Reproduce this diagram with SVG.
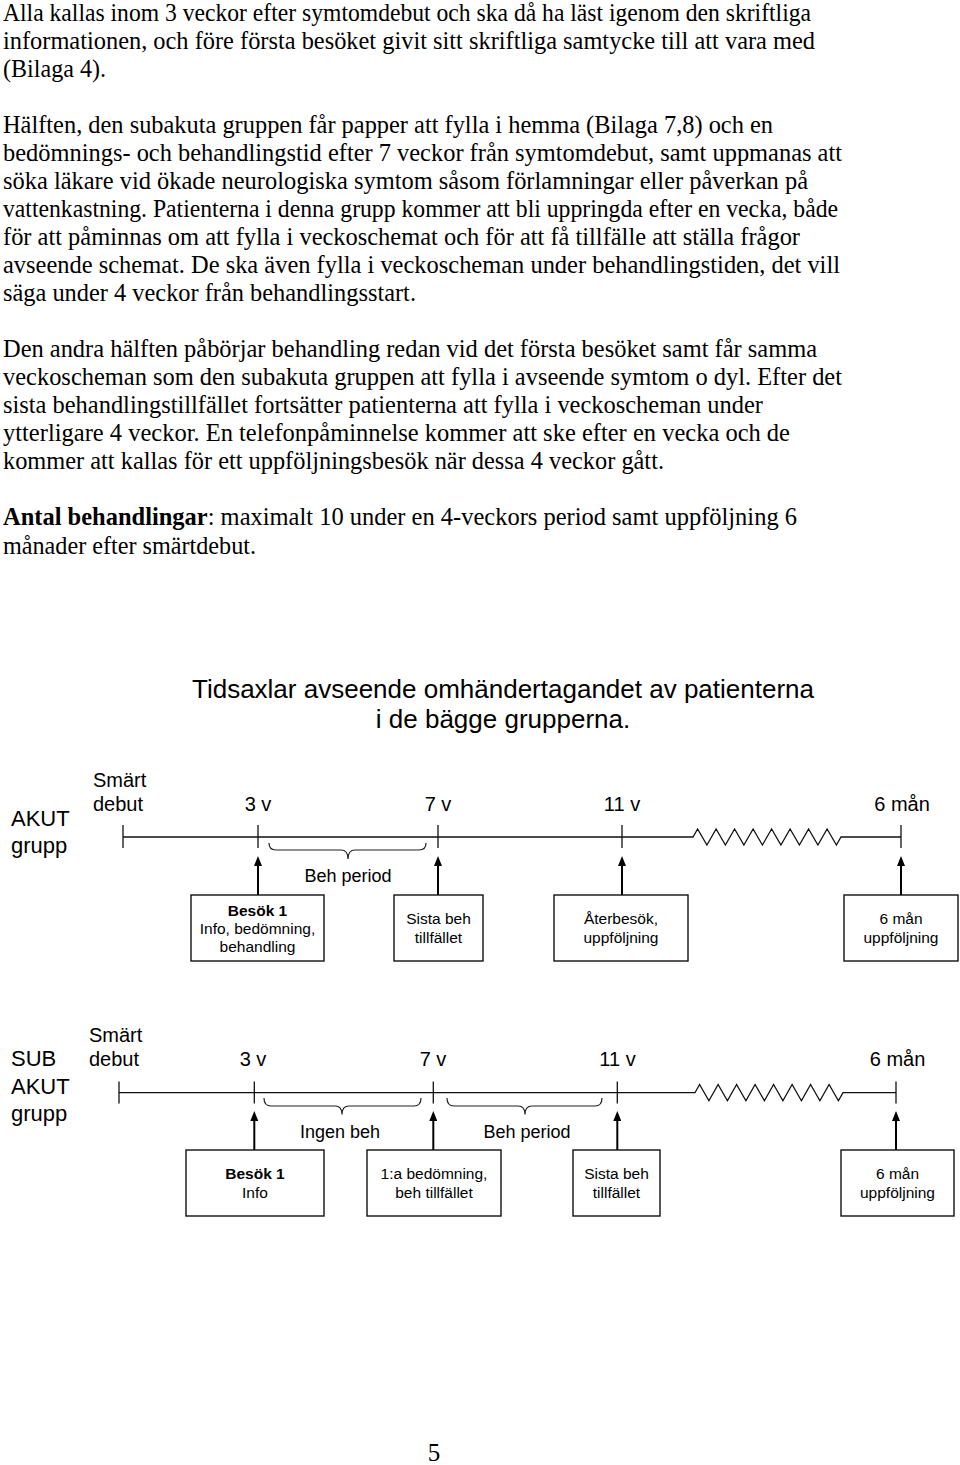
<svg xmlns="http://www.w3.org/2000/svg" width="960" height="1465" viewBox="0 0 960 1465">
<style>
.body{font-family:"Liberation Serif","Times New Roman",serif;font-size:25px;fill:#000}
.sans{font-family:"Liberation Sans",Arial,sans-serif;fill:#000}
.grp{font-size:22px}
.tl{font-size:20px}
.mid{text-anchor:middle}
.per{font-size:18px;text-anchor:middle}
.title{font-size:26px;text-anchor:middle}
.bx rect{fill:#fff;stroke:#111;stroke-width:1.4}
.bx text{font-family:"Liberation Sans",Arial,sans-serif;font-size:15.5px;text-anchor:middle;fill:#000}
.b{font-weight:bold}
.axis{fill:none;stroke:#111;stroke-width:1.3}
.brace{fill:none;stroke:#222;stroke-width:1.2}
.arr{stroke:#000;stroke-width:2;marker-end:url(#ah)}
</style>
<defs>
<marker id="ah" markerUnits="userSpaceOnUse" markerWidth="10" markerHeight="8" viewBox="0 0 10 8" refX="6" refY="4" orient="auto">
<path d="M0,0 L10,4 L0,8 Z" fill="#000"/>
</marker>
</defs>
<rect width="960" height="1465" fill="#fff"/>

<g id="bodytext" class="body">
<text x="3" y="20.5" textLength="808" lengthAdjust="spacingAndGlyphs">Alla kallas inom 3 veckor efter symtomdebut och ska då ha läst igenom den skriftliga</text>
<text x="3" y="48.6" textLength="812" lengthAdjust="spacingAndGlyphs">informationen, och före första besöket givit sitt skriftliga samtycke till att vara med</text>
<text x="3" y="76.6" textLength="103" lengthAdjust="spacingAndGlyphs">(Bilaga 4).</text>
<text x="3" y="132.7" textLength="770" lengthAdjust="spacingAndGlyphs">Hälften, den subakuta gruppen får papper att fylla i hemma (Bilaga 7,8) och en</text>
<text x="3" y="160.8" textLength="839" lengthAdjust="spacingAndGlyphs">bedömnings- och behandlingstid efter 7 veckor från symtomdebut, samt uppmanas att</text>
<text x="3" y="188.8" textLength="805" lengthAdjust="spacingAndGlyphs">söka läkare vid ökade neurologiska symtom såsom förlamningar eller påverkan på</text>
<text x="3" y="216.9" textLength="835" lengthAdjust="spacingAndGlyphs">vattenkastning. Patienterna i denna grupp kommer att bli uppringda efter en vecka, både</text>
<text x="3" y="244.9" textLength="797" lengthAdjust="spacingAndGlyphs">för att påminnas om att fylla i veckoschemat och för att få tillfälle att ställa frågor</text>
<text x="3" y="273" textLength="837" lengthAdjust="spacingAndGlyphs">avseende schemat. De ska även fylla i veckoscheman under behandlingstiden, det vill</text>
<text x="3" y="301" textLength="413" lengthAdjust="spacingAndGlyphs">säga under 4 veckor från behandlingsstart.</text>
<text x="3" y="357.1" textLength="814" lengthAdjust="spacingAndGlyphs">Den andra hälften påbörjar behandling redan vid det första besöket samt får samma</text>
<text x="3" y="385.2" textLength="839" lengthAdjust="spacingAndGlyphs">veckoscheman som den subakuta gruppen att fylla i avseende symtom o dyl. Efter det</text>
<text x="3" y="413.2" textLength="760" lengthAdjust="spacingAndGlyphs">sista behandlingstillfället fortsätter patienterna att fylla i veckoscheman under</text>
<text x="3" y="441.3" textLength="787" lengthAdjust="spacingAndGlyphs">ytterligare 4 veckor. En telefonpåminnelse kommer att ske efter en vecka och de</text>
<text x="3" y="469.3" textLength="661" lengthAdjust="spacingAndGlyphs">kommer att kallas för ett uppföljningsbesök när dessa 4 veckor gått.</text>
<text x="3" y="525.4" textLength="794" lengthAdjust="spacingAndGlyphs"><tspan font-weight="bold">Antal behandlingar</tspan>: maximalt 10 under en 4-veckors period samt uppföljning 6</text>
<text x="3" y="553.5" textLength="253" lengthAdjust="spacingAndGlyphs">månader efter smärtdebut.</text>
<text x="434" y="1461" text-anchor="middle">5</text>
</g>

<g id="title" class="sans title">
<text x="503" y="698">Tidsaxlar avseende omhändertagandet av patienterna</text>
<text x="503" y="728">i de bägge grupperna.</text>
</g>

<g id="akut-axis">
<text class="sans grp" x="11" y="826">AKUT</text>
<text class="sans grp" x="11" y="853">grupp</text>
<text class="sans tl" x="93" y="787">Smärt</text>
<text class="sans tl" x="93" y="811">debut</text>
<text class="sans tl mid" x="258" y="811">3 v</text>
<text class="sans tl mid" x="438" y="811">7 v</text>
<text class="sans tl mid" x="622" y="811">11 v</text>
<text class="sans tl mid" x="902" y="811">6 mån</text>
<path class="axis" d="M123,837 L693,837 L697.6,829 L706.9,845 L716.1,829 L725.4,845 L734.6,829 L743.9,845 L753.1,829 L762.4,845 L771.6,829 L780.9,845 L790.1,829 L799.4,845 L808.6,829 L817.9,845 L827.1,829 L836.4,845 L841,837 L901,837"/>
<path class="axis" d="M123,825 V848 M258,825 V848 M438,825 V848 M622,825 V848 M901,825 V848"/>
<path class="brace" d="M269,843 Q269,850 276,850 L341,850 Q348,850 348,859 Q348,850 355,850 L419,850 Q426,850 426,843"/>
<text class="sans per" x="348" y="882">Beh period</text>
</g>

<g id="akut-besok1" class="bx">
<rect x="191" y="895" width="133" height="66"/>
<text x="257.5" y="915.5" class="b">Besök 1</text>
<text x="257.5" y="933.5">Info, bedömning,</text>
<text x="257.5" y="952">behandling</text>
</g>
<g id="akut-sista" class="bx">
<rect x="394" y="895" width="89" height="66"/>
<text x="438.5" y="924">Sista beh</text>
<text x="438.5" y="943">tillfället</text>
</g>
<g id="akut-aterbesok" class="bx">
<rect x="554" y="895" width="134" height="66"/>
<text x="621" y="924">Återbesök,</text>
<text x="621" y="943">uppföljning</text>
</g>
<g id="akut-6man" class="bx">
<rect x="844" y="895" width="114" height="66"/>
<text x="901" y="924">6 mån</text>
<text x="901" y="943">uppföljning</text>
</g>

<g id="sub-axis">
<text class="sans grp" x="11" y="1066">SUB</text>
<text class="sans grp" x="11" y="1093.5">AKUT</text>
<text class="sans grp" x="11" y="1121">grupp</text>
<text class="sans tl" x="89" y="1042">Smärt</text>
<text class="sans tl" x="89" y="1066">debut</text>
<text class="sans tl mid" x="253" y="1066">3 v</text>
<text class="sans tl mid" x="433" y="1066">7 v</text>
<text class="sans tl mid" x="617.5" y="1066">11 v</text>
<text class="sans tl mid" x="897.5" y="1066">6 mån</text>
<path class="axis" d="M119,1092.7 L695,1092.7 L699.6,1084.5 L708.9,1100.7 L718.1,1084.5 L727.4,1100.7 L736.6,1084.5 L745.9,1100.7 L755.1,1084.5 L764.4,1100.7 L773.6,1084.5 L782.9,1100.7 L792.1,1084.5 L801.4,1100.7 L810.6,1084.5 L819.9,1100.7 L829.1,1084.5 L838.4,1100.7 L843,1092.7 L896,1092.7"/>
<path class="axis" d="M119,1081.5 V1103.5 M254.3,1081.5 V1103.5 M433.3,1081.5 V1103.5 M617.3,1081.5 V1103.5 M896,1081.5 V1103.5"/>
<path class="brace" d="M264,1098 Q264,1106 271,1106 L335,1106 Q342,1106 342,1114.5 Q342,1106 349,1106 L414,1106 Q421,1106 421,1098"/>
<path class="brace" d="M447,1098 Q447,1106 454,1106 L518,1106 Q525,1106 525,1114.5 Q525,1106 532,1106 L595,1106 Q602,1106 602,1098"/>
<text class="sans per" x="340" y="1138">Ingen beh</text>
<text class="sans per" x="527" y="1138">Beh period</text>
</g>

<g id="sub-besok1" class="bx">
<rect x="186" y="1150" width="138" height="66"/>
<text x="255" y="1179" class="b">Besök 1</text>
<text x="255" y="1198">Info</text>
</g>
<g id="sub-bedomning" class="bx">
<rect x="367" y="1150" width="134" height="66"/>
<text x="434" y="1179">1:a bedömning,</text>
<text x="434" y="1198">beh tillfället</text>
</g>
<g id="sub-sista" class="bx">
<rect x="573" y="1150" width="87" height="66"/>
<text x="616.5" y="1179">Sista beh</text>
<text x="616.5" y="1198">tillfället</text>
</g>
<g id="sub-6man" class="bx">
<rect x="841" y="1150" width="113" height="66"/>
<text x="897.5" y="1179">6 mån</text>
<text x="897.5" y="1198">uppföljning</text>
</g>

<g id="connectors">
<line class="arr" x1="258" y1="895" x2="258" y2="860"/>
<line class="arr" x1="438" y1="895" x2="438" y2="860"/>
<line class="arr" x1="622" y1="895" x2="622" y2="860"/>
<line class="arr" x1="901" y1="895" x2="901" y2="860"/>
<line class="arr" x1="254.3" y1="1150" x2="254.3" y2="1115"/>
<line class="arr" x1="433.3" y1="1150" x2="433.3" y2="1115"/>
<line class="arr" x1="617.3" y1="1150" x2="617.3" y2="1115"/>
<line class="arr" x1="896" y1="1150" x2="896" y2="1115"/>
</g>
</svg>
